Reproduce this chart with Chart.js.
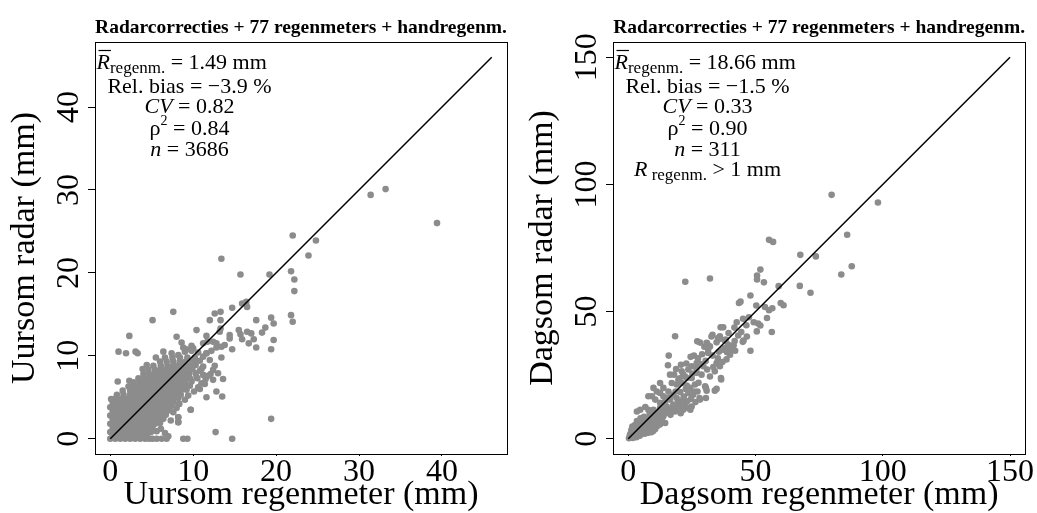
<!DOCTYPE html>
<html>
<head>
<meta charset="utf-8">
<script src="https://cdn.jsdelivr.net/npm/chart.js@4.4.1/dist/chart.umd.min.js"></script>
<style>
  body { margin: 0; background: #fff; width: 1037px; height: 513px; overflow: hidden; position: relative; }
  .panel { position: absolute; top: 0; height: 513px; }
</style>
</head>
<body>
<div class="panel" style="left:0;width:518px"><canvas id="uursom"></canvas></div>
<div class="panel" style="left:518px;width:519px"><canvas id="dagsom"></canvas></div>
<script>
const chartTitle = 'Radarcorrecties + 77 regenmeters + handregenm.';

// hourly sums (left panel)
const uursomTicks = [0, 10, 20, 30, 40];
const uursomOneToOne = [0, 46];
const uursomStats = ['1.49', '\u22123.9', '0.82', '0.84', '3686'];
const uursomPoints = [
  [0,0],[0.6,0],[1.2,0],[1.8,0],[2.4,0],[3,0],[3.6,0],[4.2,0],[4.7,0],[5.1,0],[5.6,0],[6.2,0],[6.8,0],[8.8,0],[9.3,0],[14.7,0],
  [0.3,0.4],[0.9,0.4],[1.5,0.4],[2.1,0.4],[2.7,0.4],[3.3,0.4],[3.9,0.4],[4.4,0.4],[7,0.3],
  [0,0.8],[0.6,0.8],[1.2,0.8],[1.8,0.8],[2.4,0.8],[3,0.8],[3.6,0.8],[4.2,0.8],[4.9,0.8],[5.6,0.9],[6.6,0.7],[12.7,0.8],
  [0.3,1.3],[0.9,1.3],[1.5,1.3],[2.1,1.3],[2.7,1.3],[3.3,1.3],[3.9,1.3],[4.5,1.3],[5.1,1.3],[6.1,1.2],
  [0,1.8],[0.6,1.8],[1.2,1.8],[1.8,1.8],[2.4,1.8],[3,1.8],[3.6,1.8],[4.2,1.8],[4.8,1.8],[5.4,1.8],[6,1.9],
  [0.3,2.3],[0.9,2.3],[1.5,2.3],[2.1,2.3],[2.7,2.3],[3.3,2.3],[3.9,2.3],[4.5,2.3],[5.1,2.3],[5.7,2.3],[6.4,2.4],[7.3,2.2],[8.2,2.0],
  [0,2.8],[0.6,2.8],[1.2,2.8],[1.8,2.8],[2.4,2.8],[3,2.8],[3.6,2.8],[4.2,2.8],[4.8,2.8],[5.4,2.8],[6,2.8],[6.7,2.9],[8.2,2.6],
  [0.3,3.3],[0.9,3.3],[1.5,3.3],[2.1,3.3],[2.7,3.3],[3.3,3.3],[3.9,3.3],[4.5,3.3],[5.1,3.3],[5.7,3.3],[6.3,3.3],[7,3.4],[7.6,3.2],[9.7,3.5],
  [0,3.8],[0.6,3.8],[1.2,3.8],[1.8,3.8],[2.4,3.8],[3,3.8],[3.6,3.8],[4.2,3.8],[4.8,3.8],[5.4,3.8],[6,3.8],[6.6,3.8],[7.3,3.9],[8,3.7],
  [0.3,4.3],[0.9,4.3],[1.5,4.3],[2.1,4.3],[2.7,4.3],[3.3,4.3],[3.9,4.3],[4.5,4.3],[5.1,4.3],[5.7,4.3],[6.3,4.3],[6.9,4.3],[7.6,4.4],[8.3,4.2],
  [0.1,4.8],[0.7,4.9],[1.4,4.8],[2.1,4.8],[2.7,4.8],[3.3,4.8],[3.9,4.8],[4.5,4.8],[5.1,4.8],[5.7,4.8],[6.3,4.8],[6.9,4.8],[7.5,4.8],[8.2,4.9],[9,4.7],
  [0.8,5.3],[1.6,5.3],[2.4,5.3],[3,5.3],[3.6,5.3],[4.2,5.3],[4.8,5.3],[5.4,5.3],[6,5.3],[6.6,5.3],[7.2,5.3],[7.8,5.3],[8.5,5.3],[9.4,5.2],
  [1.5,5.8],[2.4,5.8],[3.1,5.8],[3.7,5.8],[4.3,5.8],[4.9,5.8],[5.5,5.8],[6.1,5.8],[6.7,5.8],[7.3,5.8],[7.9,5.8],[8.5,5.8],[9.2,5.9],[10.1,5.7],
  [2.2,6.3],[2.9,6.3],[3.5,6.3],[4.1,6.3],[4.7,6.3],[5.3,6.3],[5.9,6.3],[6.5,6.3],[7.1,6.3],[7.7,6.3],[8.3,6.3],[8.9,6.3],[9.6,6.4],[10.6,6.2],
  [2.8,6.8],[3.5,6.8],[4.1,6.8],[4.7,6.8],[5.3,6.8],[5.9,6.8],[6.5,6.8],[7.1,6.8],[7.7,6.8],[8.3,6.8],[9,6.8],[9.8,6.9],[11,6.7],
  [3.4,7.3],[4.1,7.3],[4.7,7.3],[5.3,7.3],[5.9,7.3],[6.5,7.3],[7.1,7.3],[7.7,7.3],[8.3,7.3],[8.9,7.3],[9.6,7.3],[10.4,7.4],[11.5,7.2],
  [4,7.8],[4.7,7.8],[5.3,7.8],[5.9,7.8],[6.5,7.8],[7.1,7.8],[7.7,7.8],[8.3,7.8],[8.9,7.8],[9.5,7.8],[10.3,7.9],[11.2,7.7],[12.1,7.8],
  [4.6,8.3],[5.4,8.3],[6.1,8.3],[6.7,8.3],[7.3,8.3],[7.9,8.3],[8.5,8.3],[9.2,8.3],[9.9,8.4],[10.8,8.2],[12.4,8.3],
  [5.2,8.8],[6.1,8.8],[6.9,8.8],[7.6,8.8],[8.2,8.8],[8.9,8.8],[9.6,8.8],[10.3,8.9],[11.2,8.7],
  [6,9.3],[6.8,9.3],[7.6,9.3],[8.4,9.3],[9.1,9.3],[9.9,9.3],[10.8,9.4],
  [6.6,9.8],[7.5,9.8],[8.4,9.8],[9.3,9.8],[10.2,9.8],[11.2,9.9],
  [6.4,10.5],[7.4,10.3],[8.2,10.1],[9,10.5],[9.8,10.6],[10.6,10.4],[11.6,10.3],[10,10.9],[12.8,11.0],
  [4.4,8.9],[5.5,9.8],[3.9,8.4],[8.6,11.6],[9.2,10.8],
  [0.9,6.9],[2.3,7.0],[1.0,10.5],[1.9,10.3],[3.05,10.5],[3.3,10.3],[2.3,12.4],[5.1,14.3],[7.6,15.3],[8.0,12.3],
  [10.4,13.1],[11.6,12.4],[11.2,11.5],[11.7,11.7],[12.4,11.7],[12.8,11.5],[13.4,11.1],[13.8,11.3],
  [12.0,14.3],[12.6,15.1],[13.3,15.3],[13.3,14.3],[13.3,13.3],[13.2,12.9],[14.7,15.8],[15.9,16.3],[16.4,16.5],[16.5,15.9],
  [14.4,12.5],[14.4,12.1],[14.7,10.8],[15.5,13.1],[15.7,12.6],[16.5,12.9],[17.0,12.7],[15.9,12.0],[16.7,11.5],[17.3,12.0],
  [17.6,11.0],[17.6,14.3],[18.3,12.8],[18.7,13.4],[19.4,14.6],[19.7,13.9],[19.7,11.9],[19.4,10.8],[19.4,2.4],
  [13.4,21.7],[15.7,19.8],[19.2,19.8],[21.8,20.2],[22.2,19.2],[22.2,17.8],[21.8,14.9],[22.0,14.1],
  [22.0,24.5],[24.8,23.9],[23.9,22.1],[31.4,29.4],[33.2,30.1],[39.4,26.0],
  [13.5,5.1],[12.8,5.7],[11.6,5.0],[9.7,3.5],[8.3,4.2],[8.2,2.6],[8.2,2.0],
  [10.2,9.2],[11.0,8.4],[11.6,10.3],[12.0,9.5],[12.6,8.8],[13.0,7.9],[12.4,7.1],[11.8,7.6],[13.4,9.8],[12.2,10.6],
  [10.8,6.0],[11.4,6.6],[10.5,7.3],[13.6,7.2],[9.8,11.2],[8.8,11.0]
];

// daily sums (right panel)
const dagsomTicks = [0, 50, 100, 150];
const dagsomOneToOne = [0, 150];
const dagsomStats = ['18.66', '\u22121.5', '0.33', '0.90', '311'];
const dagsomThreshold = '1';
const dagsomPoints = [
  [0.3,0.2],[1,0.5],[1.8,0.3],[2.5,1],[3.2,0.6],[0.8,1.8],[1.5,2.5],[2.2,2],[3,2.4],[3.8,1.8],[4.5,1.2],[5.2,2],
  [4.2,3.2],[5,3.6],[5.8,2.8],[6.5,2],[7.2,3],[6.4,4.2],[7.5,4.6],[8.3,3.6],[9,2.6],[9.6,4],[8.6,5.4],[7,6],
  [6,5.2],[5.5,6.6],[4.6,5.8],[3.6,4.6],[2.8,3.6],[2,4],[1.2,3.4],[3.4,7],[8,7],[9.5,6.4],[10.5,5.2],[10.8,7.6],
  [9.2,8.6],[7.6,8],[6.2,8.6],[4.8,8],[11.8,6.4],[12,8.8],[10.4,9.6],[8.4,10.2],[4.7,11.4],[3.4,10.7],[6.7,12.5],
  [7.9,11.4],[11.2,10.1],[9.9,8.5],[11.9,7.5],[13.8,8.8],[14.5,6.2],[13.2,7.5],
  [0.6,1.2],[1.4,1.0],[2.0,0.8],[2.8,1.6],[3.5,2.6],[4.6,2.6],[5.6,3.8],[6.8,3.4],[7.8,2.4],[8.8,4.6],
  [9.8,3.0],[10.6,3.8],[11.4,5.0],[12.4,5.6],[10,6.2],[6.8,5.4],[5.2,4.6],[4.0,5.2],[2.6,5.4],[1.6,4.8],
  [9.9,11.4],[12.5,12.1],[11.2,18.6],[12.5,18],[9.3,16.7],[10.6,15.4],[13.8,16.7],[12.5,14.1],[14.5,14.7],[16.4,15.4],
  [19,16],[17.7,13.4],[15.1,12.7],[19.7,14.7],[21.6,15.4],[18.4,10.7],[21.6,11.4],[23.6,12.1],[24.9,12.7],[16,11.2],
  [20.2,13.6],[22.4,13.2],[17.1,21.9],[19,21.3],[21,21.9],[23,20.9],[24.3,20],[26.2,21.3],[25.8,18.6],[23.6,18],
  [25.5,17.3],[16.4,25.2],[18,25.2],[21,26.5],[23.6,27.2],[22.3,24.5],[24.9,23.9],[26.9,25.9],[21.6,25.2],[23,23.9],
  [19.7,23.2],[12.5,21.9],[13.8,20],[15.8,18.6],[9.9,20],[7.9,16.7],
  [13,10.4],[14.2,11.2],[15.4,10.2],[16.6,9.4],[17.2,12],[18.4,13],[19.6,12.2],[20.6,10],[14,13.2],[15.8,16.2],
  [17.6,17.2],[18.6,18.6],[20.4,18.4],[21.8,16.6],[22.6,19.6],[24.6,15.6],[26.4,14.4],[27.2,18.6],[27.6,22],[25.2,25.6],
  [26.8,27.6],[28.4,29.4],[27.4,31.6],[29,33.2],[30.4,30.6],[20.2,23.8],[22.8,29.6],[18.8,27.4],
  [15.9,32.7],[15.6,28.9],[20.7,29.1],[18.4,40.3],[24.5,32.2],[25.8,32.7],[26.9,29.8],[24.9,28.5],
  [28,16],[30.5,16],[28.2,15.4],[30.5,20],[30.8,18.9],[34.7,19.6],[34,18.9],[30.2,20.6],[24.4,11.4],[23.1,14.7],
  [36.4,23.9],[36.5,23.3],[29.5,28.5],[31,27.2],[28.8,25.2],[32.1,24.5],[34,26.5],[34.7,29.8],[36,28.5],
  [33.4,28.2],[35.2,31.6],[37,30.2],[38.6,31.2],[35.6,34.2],[43.2,40.6],[44.4,42],[46.6,40.2],[47.4,47.8],[42.6,45.8],[39.4,41.6],
  [27.1,38.3],[31,37.4],[32.1,36.3],[31.4,33.7],[33.1,32.7],[32.7,40.2],[36,40.3],[38.3,39],[39.2,37],[38,35.7],
  [39.9,33.7],[41.2,35],[28.2,37.8],[30.8,37.7],[31.4,35],[29.9,36.2],[33.1,40.9],[35.3,39.6],[34.7,37.9],[36,39.3],
  [36.3,43.8],[37.3,43.8],[41.7,43.7],[37.9,38.6],[39.5,36.4],[40.4,35],[41.4,36.8],[38.8,34],[40,33],[42,34.6],
  [37.2,35],[41.8,38.4],[45,38.1],[48,34.6],[45.3,38.6],[45.1,47.2],[49.3,45.8],[51,45.3],[51.9,44.5],[54.5,47.5],
  [46.4,44.6],[56.4,42],[50.5,42.2],[43.5,53.4],[44.1,53.9],[50.3,52.4],[53.7,51.8],[55.3,50.5],[56.6,51.3],[59.9,53.4],
  [61,52.5],[48,56.3],[53.3,61.5],[59.1,60],[67.4,60.1],[71.6,57.4],[50.6,64.2],[50.6,62.6],[51.9,66.5],[32.1,63],
  [22.4,61.7],[67.6,72.3],[73.7,71.7],[55.3,78.2],[56.9,77.4],[79.9,95.9],[98.1,92.9],[86,80.2],[87.8,67.8],[83.7,64.6]
];

Chart.defaults.font.family = '"Liberation Serif", "Times New Roman", serif';
Chart.defaults.color = '#000';

function statLines(s, threshold) {
  const lines = [
    [['R', 'bar'], ['regenm.', 'sub'], [' = ' + s[0] + ' mm', '']],
    [['Rel. bias = ' + s[1] + ' %', '']],
    [['CV', 'i'], [' = ' + s[2], '']],
    [['\u03c1', ''], ['2', 'sup'], [' = ' + s[3], '']],
    [['n', 'i'], [' = ' + s[4], '']]
  ];
  if (threshold) lines.push([['R', 'i'], [' regenm.', 'sub'], [' > ' + threshold + ' mm', '']]);
  return lines;
}

const runFont = {
  '': '22px "Liberation Serif"',
  i: 'italic 22px "Liberation Serif"',
  bar: 'italic 22px "Liberation Serif"',
  sub: '17px "Liberation Serif"',
  sup: '14px "Liberation Serif"'
};
const runShift = { '': 0, i: 0, bar: 0, sub: 4, sup: -10 };
const lineOffsets = [26.5, 51, 71, 92.5, 114, 133.5];

// frame, title, rotated y tick labels and the statistics block
const panelDecor = {
  id: 'panelDecor',
  afterDraw(chart, args, opts) {
    const ctx = chart.ctx;
    const a = chart.chartArea;
    ctx.save();
    ctx.strokeStyle = '#000';
    ctx.lineWidth = 1;
    ctx.strokeRect(Math.round(a.left) + 0.5, Math.round(a.top) + 0.5,
      Math.round(a.right - a.left), Math.round(a.bottom - a.top));

    ctx.fillStyle = '#000';
    ctx.font = 'bold 19.5px "Liberation Serif"';
    ctx.textAlign = 'center';
    ctx.textBaseline = 'alphabetic';
    ctx.fillText(opts.title, (a.left + a.right) / 2, 33);

    const ys = chart.scales.y;
    ctx.font = '32px "Liberation Serif"';
    ys.ticks.forEach(t => {
      ctx.save();
      ctx.translate(a.left - 17, ys.getPixelForValue(t.value));
      ctx.rotate(-Math.PI / 2);
      ctx.fillText(String(t.value), 0, 0);
      ctx.restore();
    });

    ctx.textAlign = 'left';
    ctx.lineWidth = 1.2;
    opts.lines.forEach((runs, i) => {
      let w = 0;
      runs.forEach(r => { ctx.font = runFont[r[1]]; w += ctx.measureText(r[0]).width; });
      let x = i === 0 ? a.left + 1.5 : a.left + 94.5 - w / 2;
      const base = a.top + lineOffsets[i];
      runs.forEach(r => {
        ctx.font = runFont[r[1]];
        const rw = ctx.measureText(r[0]).width;
        ctx.fillText(r[0], x, base + runShift[r[1]]);
        if (r[1] === 'bar') {
          ctx.beginPath();
          ctx.moveTo(x + 2, base - 18);
          ctx.lineTo(x + rw + 1, base - 18);
          ctx.stroke();
        }
        x += rw;
      });
    });
    ctx.restore();
  }
};

function buildPanel(id, points, oneToOne, ticks, xLabel, yLabel, lines, rightPad) {
  const ext = (oneToOne[1] - oneToOne[0]) * 0.04;
  const lo = oneToOne[0] - ext;
  const hi = oneToOne[1] + ext;
  const setTicks = s => { s.ticks = ticks.map(v => ({ value: v })); };
  new Chart(document.getElementById(id), {
    type: 'scatter',
    data: {
      datasets: [
        {
          data: oneToOne.map(v => ({ x: v, y: v })),
          showLine: true,
          borderColor: '#000',
          borderWidth: 1.5,
          pointRadius: 0
        },
        {
          data: points.map(p => ({ x: p[0], y: p[1] })),
          pointRadius: 3.3,
          pointBackgroundColor: '#8c8c8c',
          pointBorderWidth: 0
        }
      ]
    },
    options: {
      animation: false,
      responsive: true,
      maintainAspectRatio: false,
      layout: { padding: { top: 42, right: rightPad, bottom: 0, left: 0 } },
      plugins: {
        legend: { display: false },
        tooltip: { enabled: false },
        panelDecor: { title: chartTitle, lines: lines }
      },
      scales: {
        x: {
          type: 'linear',
          min: lo,
          max: hi,
          afterBuildTicks: setTicks,
          afterFit: s => { s.height = 59; s.paddingLeft = 0; s.paddingRight = 0; },
          grid: { drawOnChartArea: false, tickLength: 2, color: '#000' },
          border: { color: '#000' },
          ticks: { autoSkip: false, maxRotation: 0, padding: 1, font: { size: 32, lineHeight: 1 } },
          title: { display: true, text: xLabel, font: { size: 34, lineHeight: 1.03 }, padding: 0 }
        },
        y: {
          type: 'linear',
          min: lo,
          max: hi,
          afterBuildTicks: setTicks,
          afterFit: s => { s.width = 95; s.paddingTop = 0; s.paddingBottom = 0; },
          grid: { drawOnChartArea: false, tickLength: 7, color: '#000' },
          border: { color: '#000' },
          ticks: { display: false },
          title: { display: true, text: yLabel, font: { size: 34, lineHeight: 1.03 }, padding: { top: 8, bottom: 0 } }
        }
      }
    },
    plugins: [panelDecor]
  });
}

buildPanel('uursom', uursomPoints, uursomOneToOne, uursomTicks,
  'Uursom regenmeter (mm)', 'Uursom radar (mm)', statLines(uursomStats), 11);
buildPanel('dagsom', dagsomPoints, dagsomOneToOne, dagsomTicks,
  'Dagsom regenmeter (mm)', 'Dagsom radar (mm)', statLines(dagsomStats, dagsomThreshold), 11.7);
</script>
</body>
</html>
